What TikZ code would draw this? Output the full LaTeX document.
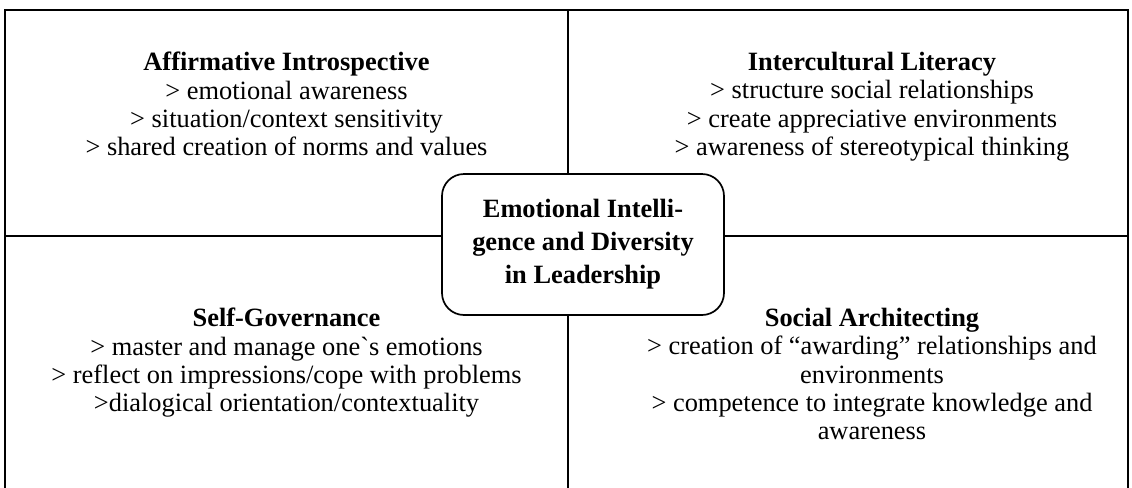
\documentclass[tikz,border=0pt]{standalone}
\usepackage{fontspec}
\setmainfont{Liberation Serif}
\usetikzlibrary{positioning}

\begin{document}
\begin{tikzpicture}[x=0.5pt,y=-0.5pt,
    quad/.style={align=center, anchor=north, inner sep=0pt, font=\fontsize{13.2}{14.1}\selectfont},
    core/.style={draw, line width=0.85pt, rounded corners=11pt, fill=white,
        minimum width=141pt, minimum height=70.5pt, inner sep=0pt, align=center,
        font=\fontsize{13.2}{16.5}\selectfont\bfseries}]
    \useasboundingbox (0,0) rectangle (1132,488);
    \fill[white] (0,0) rectangle (1132,488);
    \clip (0,0) rectangle (1132,488);
    \coordinate (NW) at (5,10);
    \coordinate (NE) at (1128,10);
    \coordinate (SW) at (5,500);
    \coordinate (SE) at (1128,500);
    \coordinate (N) at (568,10);
    \coordinate (S) at (568,500);
    \coordinate (W) at (5,236);
    \coordinate (E) at (1128,236);

    % frame and cross
    \draw[line width=1.25pt] (SW) -- (NW) -- (NE) -- (SE);
    \draw[line width=1pt] (N) -- (S) (W) -- (E);

    \node[core] (EI) at (583,244.5) {Emotional Intelli-\\gence and Diversity\\in Leadership};

    \node[quad] (AI) at (286.5,52) {\textbf{Affirmative Introspective}\\> emotional awareness\\> situation/context sensitivity\\> shared creation of norms and values};
    \node[quad] (IL) at (872,52) {\textbf{Intercultural Literacy}\\> structure social relationships\\> create appreciative environments\\> awareness of stereotypical thinking};
    \node[quad] (SG) at (286.5,308) {\textbf{Self-Governance}\\> master and manage one{\addfontfeatures{Ligatures=TeXOff}`}s emotions\\> reflect on impressions/cope with problems\\>dialogical orientation/contextuality};
    \node[quad] (SA) at (872,308) {\textbf{Social Architecting}\\> creation of “awarding” relationships and\\environments\\> competence to integrate knowledge and\\awareness};
\end{tikzpicture}
\end{document}
